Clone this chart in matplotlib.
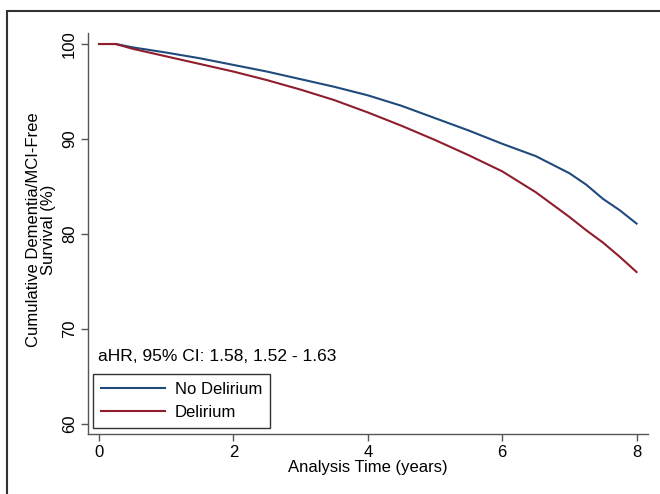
import matplotlib
matplotlib.use("Agg")
import matplotlib.pyplot as plt
from matplotlib.patches import Rectangle

plt.rcParams["font.family"] = ["Liberation Sans", "DejaVu Sans"]

# Kaplan-Meier style curves
tiempo = [0, 0.25, 0.5, 1, 1.5, 2, 2.5, 3, 3.5, 4, 4.5, 5, 5.5, 6, 6.5,
          7, 7.25, 7.5, 7.75, 8]
no_delirium = [100, 100, 99.65, 99.1, 98.5, 97.8, 97.1, 96.3, 95.5, 94.6,
               93.5, 92.2, 90.9, 89.5, 88.2, 86.4, 85.2, 83.7, 82.5, 81.1]
delirium = [100, 100, 99.5, 98.7, 97.9, 97.1, 96.2, 95.2, 94.1, 92.8,
            91.4, 89.9, 88.3, 86.6, 84.4, 81.8, 80.4, 79.1, 77.6, 76.0]

x_ticks = [0, 2, 4, 6, 8]
y_ticks = [60, 70, 80, 90, 100]

AZUL = "#1f4a7c"
ROJO = "#8f1d2c"
GRIS = "#555555"
FS = 12

fig = plt.figure(figsize=(6.6, 4.94), dpi=100)
ax = fig.add_axes([88 / 660, 60 / 494, 560 / 660, 401 / 494])

ax.plot(tiempo, no_delirium, color=AZUL, lw=1.5, label="No Delirium")
ax.plot(tiempo, delirium, color=ROJO, lw=1.5, label="Delirium")

ax.set_xlim(-0.164, 8.17)
ax.set_ylim(58.95, 101.16)
ax.set_xticks(x_ticks)
ax.set_yticks(y_ticks)
ax.set_yticklabels([str(v) for v in y_ticks], rotation=90, va="center")

for lado in ("top", "right"):
    ax.spines[lado].set_visible(False)
for lado in ("left", "bottom"):
    ax.spines[lado].set_color(GRIS)
    ax.spines[lado].set_linewidth(1.0)
ax.tick_params(direction="out", length=5, width=1, color=GRIS,
               labelsize=FS, pad=3)

ax.set_xlabel("Analysis Time (years)", fontsize=FS, labelpad=0)
fig.text(41 / 660, 1 - 230 / 494, "Cumulative Dementia/MCI-Free\nSurvival (%)",
         rotation=90, ha="center", va="center", fontsize=FS,
         multialignment="center", linespacing=1.05)

ax.text(-0.015, 67.1, "aHR, 95% CI: 1.58, 1.52 - 1.63", fontsize=12.5,
        ha="left", va="center")

leg = ax.legend(loc="lower left", bbox_to_anchor=(93 / 660, 66 / 494),
                bbox_transform=fig.transFigure, borderaxespad=0,
                fontsize=FS, handlelength=3.8, handletextpad=0.6,
                labelspacing=0.45, borderpad=0.5, fancybox=False,
                framealpha=1, edgecolor="#333333")
leg.get_frame().set_linewidth(1.0)
for linea in leg.get_lines():
    linea.set_linewidth(1.5)

# outer frame, clipped by the picture on the right and bottom
fig.patches.append(Rectangle((7 / 660, -0.05), 1.2, 1 - 11 / 494 + 0.05,
                             transform=fig.transFigure, fill=False,
                             edgecolor="#333333", linewidth=1.5))

plt.savefig("out.png", dpi=100)
